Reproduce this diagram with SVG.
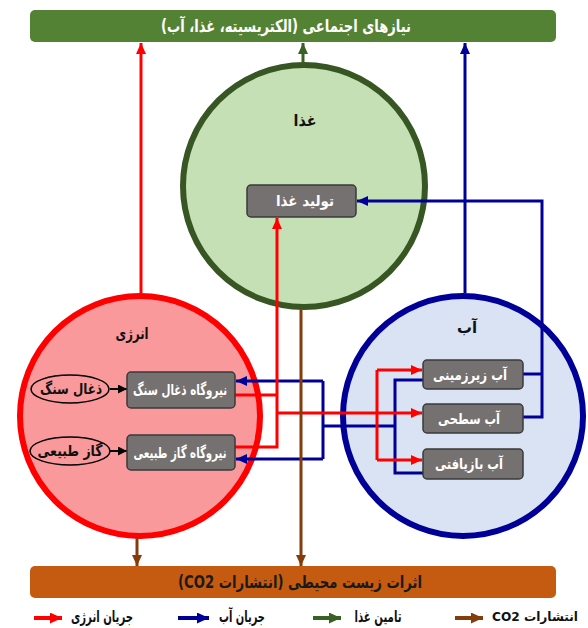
<svg xmlns="http://www.w3.org/2000/svg" width="588" height="628" viewBox="0 0 588 628">
<defs>
<style>
text{font-family:"DejaVu Sans",sans-serif;font-weight:bold;text-anchor:middle;dominant-baseline:central}
.w{fill:#ffffff;font-size:15px}
.k{fill:#111111;font-size:15px}
.t{fill:#111111;font-size:16px}
.box{fill:#767171;stroke:#3a3a3a;stroke-width:1.5}
.ell{fill:#f9999b;stroke:#000000;stroke-width:1.5}
.c{fill:none;stroke-width:3}
.r{stroke:#ff0000}
.b{stroke:#000099}
.g{stroke:#3b6026}
.br{stroke:#843c0c}
.bk{stroke:#000000;stroke-width:2}
.lg{fill:none;stroke-width:4}
</style>
<marker id="mr" markerUnits="userSpaceOnUse" markerWidth="11" markerHeight="10" viewBox="0 0 11 10" refX="11" refY="5" orient="auto"><path d="M0,0L11,5L0,10z" fill="#ff0000"/></marker>
<marker id="mb" markerUnits="userSpaceOnUse" markerWidth="11" markerHeight="10" viewBox="0 0 11 10" refX="11" refY="5" orient="auto"><path d="M0,0L11,5L0,10z" fill="#000099"/></marker>
<marker id="mg" markerUnits="userSpaceOnUse" markerWidth="11" markerHeight="10" viewBox="0 0 11 10" refX="11" refY="5" orient="auto"><path d="M0,0L11,5L0,10z" fill="#3b6026"/></marker>
<marker id="mbr" markerUnits="userSpaceOnUse" markerWidth="11" markerHeight="10" viewBox="0 0 11 10" refX="11" refY="5" orient="auto"><path d="M0,0L11,5L0,10z" fill="#843c0c"/></marker>
<marker id="mk" markerUnits="userSpaceOnUse" markerWidth="9" markerHeight="9" viewBox="0 0 9 9" refX="9" refY="4.5" orient="auto"><path d="M0,0L9,4.5L0,9z" fill="#000000"/></marker>
<marker id="lr" markerUnits="userSpaceOnUse" markerWidth="12" markerHeight="11" viewBox="0 0 12 11" refX="12" refY="5.5" orient="auto"><path d="M0,0L12,5.5L0,11z" fill="#ff0000"/></marker>
<marker id="lb" markerUnits="userSpaceOnUse" markerWidth="12" markerHeight="11" viewBox="0 0 12 11" refX="12" refY="5.5" orient="auto"><path d="M0,0L12,5.5L0,11z" fill="#000099"/></marker>
<marker id="lgm" markerUnits="userSpaceOnUse" markerWidth="12" markerHeight="11" viewBox="0 0 12 11" refX="12" refY="5.5" orient="auto"><path d="M0,0L12,5.5L0,11z" fill="#3b6026"/></marker>
<marker id="lbr" markerUnits="userSpaceOnUse" markerWidth="12" markerHeight="11" viewBox="0 0 12 11" refX="12" refY="5.5" orient="auto"><path d="M0,0L12,5.5L0,11z" fill="#843c0c"/></marker>
</defs>

<g id="needs">
<rect x="30" y="10" width="526" height="32" rx="5" fill="#548235"/>
<text x="286" y="26" direction="rtl" style="fill:#ffffff;font-size:17px" textLength="250" lengthAdjust="spacingAndGlyphs">نیازهای اجتماعی (الکتریسیته، غذا، آب)</text>
</g>
<g id="impacts">
<rect x="30" y="566" width="526" height="32" rx="5" fill="#c55a11"/>
<text x="300" y="582" direction="rtl" style="fill:#1a1a1a;font-size:17px" textLength="244" lengthAdjust="spacingAndGlyphs">اثرات زیست محیطی (انتشارات CO2)</text>
</g>

<g id="food">
<circle cx="304" cy="186" r="121" fill="#c5e0b4" stroke="#375623" stroke-width="6"/>
<text x="305" y="120" class="t" direction="rtl" textLength="23" lengthAdjust="spacingAndGlyphs">غذا</text>
</g>
<g id="energy">
<circle cx="140" cy="416" r="120" fill="#f9999b" stroke="#ff0000" stroke-width="6"/>
<text x="132" y="333" class="t" direction="rtl" textLength="33" lengthAdjust="spacingAndGlyphs">انرژی</text>
</g>
<g id="water">
<circle cx="463" cy="416" r="120" fill="#dae3f3" stroke="#000099" stroke-width="6"/>
<text x="467" y="327" class="t" direction="rtl" textLength="20" lengthAdjust="spacingAndGlyphs">آب</text>
</g>

<g id="connectors">
<path class="c b" d="M465,293V43" marker-end="url(#mb)"/>
<path class="c b" d="M523,374H542"/>
<path class="c b" d="M523,417H542V201H357" marker-end="url(#mb)"/>
<path class="c b" d="M423,380H395V473H423"/>
<path class="c b" d="M395,426H323"/>
<path class="c b" d="M323,381V459"/>
<path class="c b" d="M323,381H236" marker-end="url(#mb)"/>
<path class="c b" d="M323,459H236" marker-end="url(#mb)"/>
<path class="c r" d="M141,293V43" marker-end="url(#mr)"/>
<path class="c r" d="M235,395H277"/>
<path class="c r" d="M235,447H277V218" marker-end="url(#mr)"/>
<path class="c r" d="M277,413H422" marker-end="url(#mr)"/>
<path class="c r" d="M377,370V460"/>
<path class="c r" d="M377,370H422" marker-end="url(#mr)"/>
<path class="c r" d="M377,460H422" marker-end="url(#mr)"/>
<path class="c g" d="M303,63V43" marker-end="url(#mg)"/>
<path class="c br" d="M137,538V566" marker-end="url(#mbr)"/>
<path class="c br" d="M301,309V566" marker-end="url(#mbr)"/>
<path class="c bk" d="M110,389H127" marker-end="url(#mk)"/>
<path class="c bk" d="M110,451H127" marker-end="url(#mk)"/>
</g>

<g id="food-production">
<rect class="box" x="247" y="185" width="109" height="32" rx="4"/>
<text x="305" y="201" class="w" direction="rtl" textLength="58" lengthAdjust="spacingAndGlyphs">تولید غذا</text>
</g>
<g id="coal">
<ellipse class="ell" cx="70" cy="389" rx="39" ry="14"/>
<text x="71" y="389" class="k" direction="rtl" textLength="62" lengthAdjust="spacingAndGlyphs">ذغال سنگ</text>
</g>
<g id="gas">
<ellipse class="ell" cx="70" cy="451" rx="40" ry="14"/>
<text x="70" y="451" class="k" direction="rtl" textLength="65" lengthAdjust="spacingAndGlyphs">گاز طبیعی</text>
</g>
<g id="coal-plant">
<rect class="box" x="127" y="372" width="108" height="36" rx="4"/>
<text x="180" y="390" class="w" direction="rtl" textLength="94" lengthAdjust="spacingAndGlyphs">نیروگاه ذغال سنگ</text>
</g>
<g id="gas-plant">
<rect class="box" x="127" y="435" width="108" height="35" rx="4"/>
<text x="180" y="452.5" class="w" direction="rtl" textLength="93" lengthAdjust="spacingAndGlyphs">نیروگاه گاز طبیعی</text>
</g>
<g id="groundwater">
<rect class="box" x="423" y="360" width="100" height="29" rx="4"/>
<text x="470" y="374.5" class="w" direction="rtl" textLength="74" lengthAdjust="spacingAndGlyphs">آب زیرزمینی</text>
</g>
<g id="surface-water">
<rect class="box" x="423" y="404" width="100" height="29" rx="4"/>
<text x="469" y="418.5" class="w" direction="rtl" textLength="62" lengthAdjust="spacingAndGlyphs">آب سطحی</text>
</g>
<g id="recycled-water">
<rect class="box" x="423" y="449" width="100" height="30" rx="4"/>
<text x="469" y="464" class="w" direction="rtl" textLength="68" lengthAdjust="spacingAndGlyphs">آب بازیافتی</text>
</g>

<g id="legend">
<path class="lg" stroke="#ff0000" d="M34,618H62" marker-end="url(#lr)"/>
<text x="102" y="616" class="t" direction="rtl" textLength="62" lengthAdjust="spacingAndGlyphs">جریان انرژی</text>
<path class="lg" stroke="#000099" d="M178,618H209" marker-end="url(#lb)"/>
<text x="242" y="616" class="t" direction="rtl" textLength="46" lengthAdjust="spacingAndGlyphs">جریان آب</text>
<path class="lg" stroke="#3b6026" d="M313,618H341" marker-end="url(#lgm)"/>
<text x="378" y="616" class="t" direction="rtl" textLength="47" lengthAdjust="spacingAndGlyphs">تامین غذا</text>
<path class="lg" stroke="#843c0c" d="M455,618H483" marker-end="url(#lbr)"/>
<text x="535" y="616" class="t" style="font-size:13px" direction="rtl" textLength="86" lengthAdjust="spacingAndGlyphs">انتشارات CO2</text>
</g>
</svg>
